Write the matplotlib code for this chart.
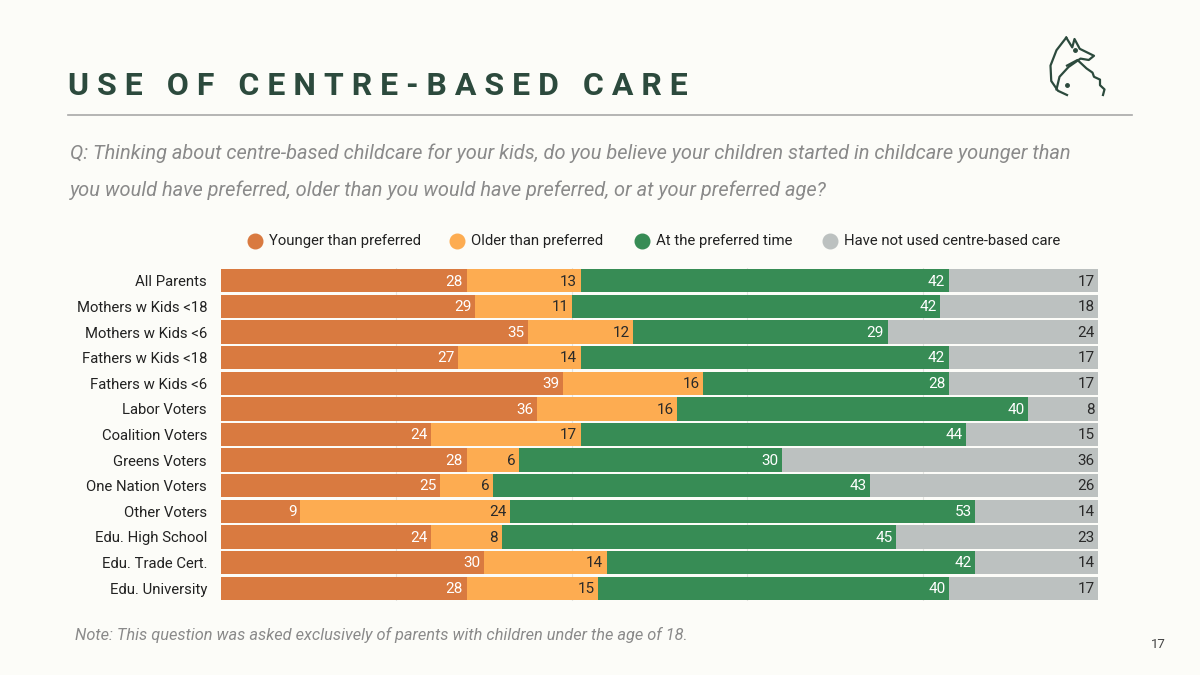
import matplotlib.pyplot as plt
from matplotlib.lines import Line2D
import numpy as np

categories = ['All Parents', 'Mothers w Kids <18', 'Mothers w Kids <6', 'Fathers w Kids <18',
              'Fathers w Kids <6', 'Labor Voters', 'Coalition Voters', 'Greens Voters',
              'One Nation Voters', 'Other Voters', 'Edu. High School', 'Edu. Trade Cert.',
              'Edu. University']
younger = [28, 29, 35, 27, 39, 36, 24, 28, 25, 9, 24, 30, 28]
older = [13, 11, 12, 14, 16, 16, 17, 6, 6, 24, 8, 14, 15]
preferred = [42, 42, 29, 42, 28, 40, 44, 30, 43, 53, 45, 42, 40]
not_used = [17, 18, 24, 17, 17, 8, 15, 36, 26, 14, 23, 14, 17]

series_names = ['Younger than preferred', 'Older than preferred', 'At the preferred time',
                'Have not used centre-based care']
colors = ['#d97a40', '#fdac51', '#378c55', '#bcc1c0']
text_colors = ['white', '#2a2a2a', 'white', '#2a2a2a']

bg = '#fcfcf8'
dark = '#2c4a3d'

plt.rcParams['font.family'] = ['Roboto', 'DejaVu Sans']

fig = plt.figure(figsize=(12, 6.75), dpi=100, facecolor=bg)
ax = fig.add_axes([221/1200, 1-601/675, 877/1200, 333/675])
ax.set_facecolor(bg)

y = np.arange(len(categories))
left = np.zeros(len(categories))
for vals, col, tc in zip([younger, older, preferred, not_used], colors, text_colors):
    vals = np.array(vals, dtype=float)
    ax.barh(y, vals, left=left, height=0.91, color=col, zorder=2)
    for yi, l, v in zip(y, left, vals):
        ax.text(l + v - 0.4, yi + 0.03, f'{int(v)}', ha='right', va='center',
                color=tc, fontsize=11, zorder=3)
    left += vals

ax.set_xlim(0, 100)
ax.set_ylim(len(categories) - 0.5, -0.5)
ax.set_xticks([20, 40, 60, 80])
ax.grid(axis='x', color='#e4e4e0', linewidth=0.8, zorder=1)
ax.tick_params(axis='x', length=0, labelbottom=False)
ax.tick_params(axis='y', length=0, pad=10, labelsize=10.7, labelcolor='#222222')
ax.set_yticks(y)
ax.set_yticklabels(categories)
for s in ax.spines.values():
    s.set_visible(False)

# legend
leg_x = [255, 457, 642, 830]
for lx, name, col in zip(leg_x, series_names, colors):
    fig.add_artist(Line2D([lx/1200], [1-241/675], marker='o', markersize=10.5,
                          color=col, transform=fig.transFigure))
    fig.text((lx + 14)/1200, 1-241/675, name, ha='left', va='center',
             fontsize=10.7, color='#222222')

# title
title = 'USE OF CENTRE-BASED CARE'
spaced = '   '.join(' '.join(w) for w in title.split(' '))
fig.text(68/1200, 1-86/675, spaced, ha='left', va='center', fontsize=23,
         fontweight='bold', color=dark)
fig.add_artist(Line2D([68/1200, 1132/1200], [1-115/675, 1-115/675],
                      color='#a8a8a8', linewidth=1.2, transform=fig.transFigure))

fig.text(70/1200, 1-153/675,
         'Q: Thinking about centre-based childcare for your kids, do you believe your children started in childcare younger than',
         ha='left', va='center', fontsize=14.4, style='italic', color='#8a8a8a')
fig.text(70/1200, 1-190/675,
         'you would have preferred, older than you would have preferred, or at your preferred age?',
         ha='left', va='center', fontsize=14.4, style='italic', color='#8a8a8a')

fig.text(75/1200, 1-635/675,
         'Note: This question was asked exclusively of parents with children under the age of 18.',
         ha='left', va='center', fontsize=11.8, style='italic', color='#8a8a8a')
fig.text(1158/1200, 1-645/675, '17', ha='center', va='center', fontsize=9.5, color='#444444')

# simple fox logo
lax = fig.add_axes([1040/1200, 1-102/675, 75/1200, 70/675])
lax.axis('off')
lax.set_xlim(0, 10)
lax.set_ylim(0, 10)
fx = [3.5, 2.2, 1.4, 1.5, 2.4, 3.6]
fy = [9.2, 7.4, 5.2, 3.0, 1.6, 1.0]
lax.plot(fx, fy, color=dark, lw=1.6)
lax.plot([3.5, 4.3, 4.6, 5.3, 7.2, 6.5, 5.4, 3.8, 2.6, 2.2],
         [9.2, 7.8, 9.0, 7.6, 6.6, 6.0, 6.2, 5.0, 3.6, 1.8], color=dark, lw=1.6)
lax.plot([3.6, 5.0, 6.0, 6.2, 7.0, 7.2, 8.0, 8.0, 8.6, 8.4],
         [5.2, 6.0, 5.0, 4.8, 4.2, 3.6, 3.2, 2.4, 1.8, 1.0], color=dark, lw=1.6)
lax.plot([4.6], [7.4], 'o', color=dark, markersize=2.5)
lax.plot([3.6], [2.4], 'o', color=dark, markersize=2.5)

fig.savefig('out.png', dpi=100, facecolor=bg)
